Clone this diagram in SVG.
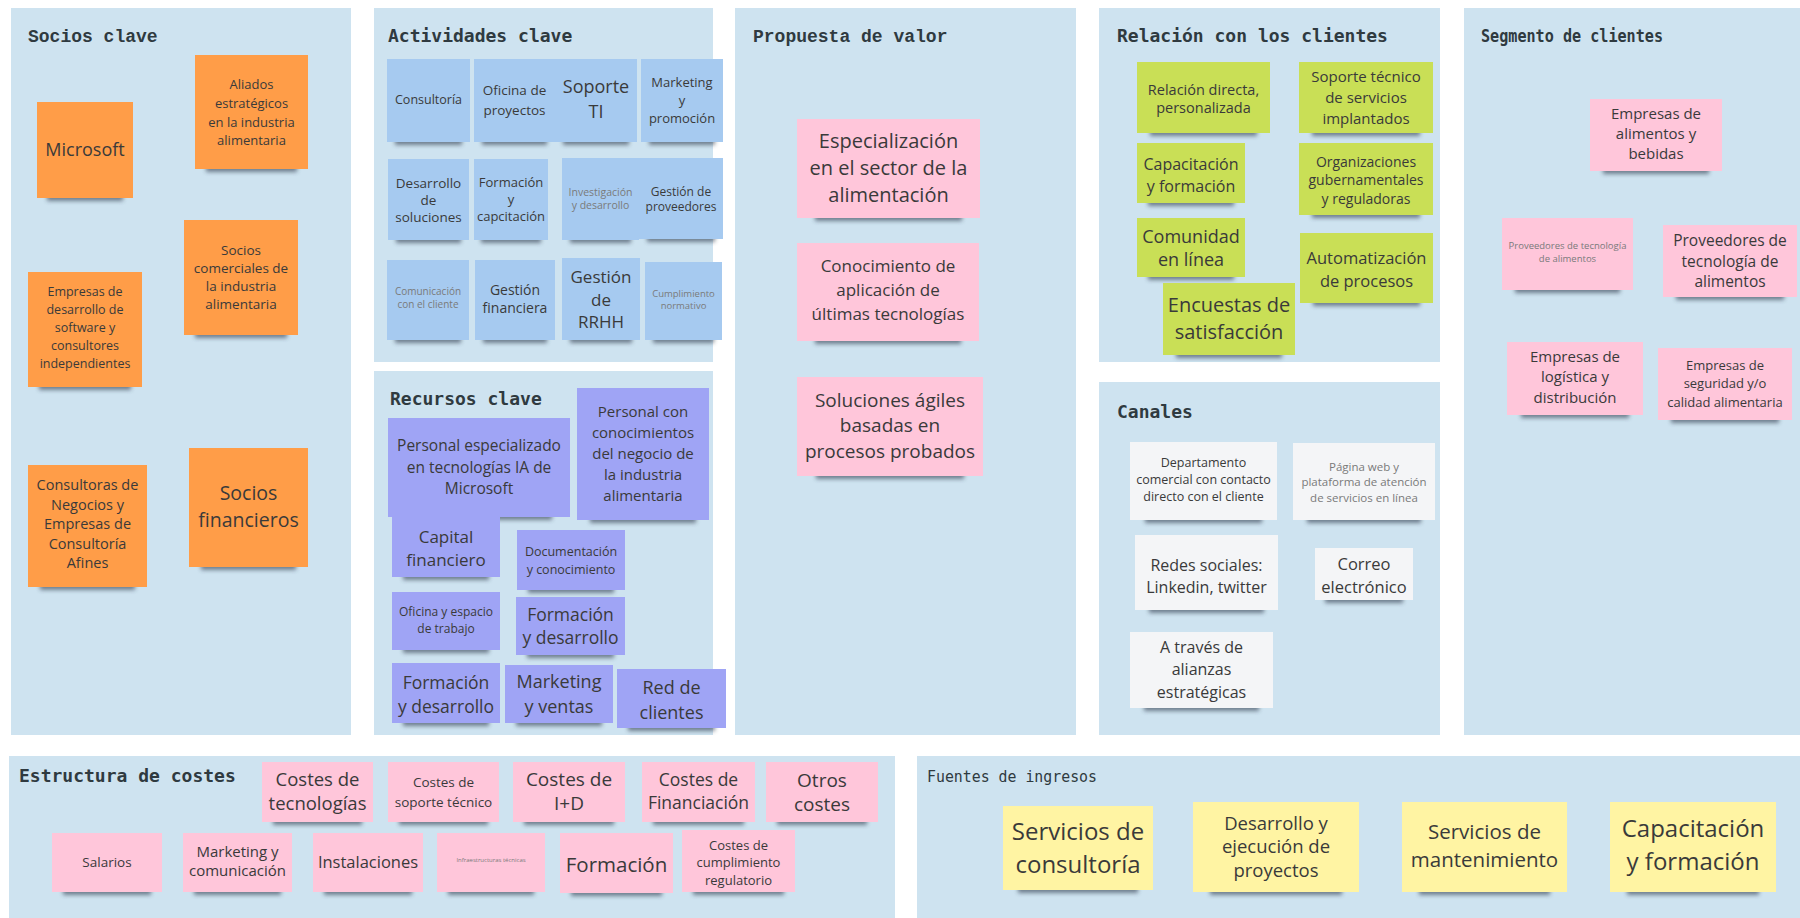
<svg xmlns="http://www.w3.org/2000/svg" width="1800" height="918" viewBox="0 0 1800 918">
<defs>
<filter id="blur" x="-20%" y="-100%" width="140%" height="300%"><feGaussianBlur stdDeviation="2.2"/></filter>
<style>
.panel{fill:#CEE3F0}
.t1{font-family:"DejaVu Sans Mono",monospace;font-weight:bold;font-size:18px;fill:#2f3a40}
.t2{font-family:"Liberation Mono","Courier New",monospace;font-weight:bold;font-size:18px;fill:#2f3a40}
.t3{font-family:"DejaVu Sans Mono",monospace;font-size:16px;fill:#2f3a40}
.sh{fill:#2e3b4c;opacity:.6;filter:url(#blur)}
.o{fill:#FF9D48}.b{fill:#A6CAF0}.p{fill:#9FA4F5}.k{fill:#FFC6DA}.g{fill:#C9DF56}.y{fill:#FFF4A3}.w{fill:#F4F5F7}
text.n{font-family:"Open Sans","Noto Sans",sans-serif;text-anchor:middle;fill:#3a3a3a}
text.l{fill:#7a7a7a}
</style>
</defs>
<rect width="1800" height="918" fill="#ffffff"/>

<g id="panels">
<rect class="panel" x="11" y="8" width="340" height="727"/>
<rect class="panel" x="374" y="8" width="339" height="354"/>
<rect class="panel" x="374" y="371" width="339" height="364"/>
<rect class="panel" x="735" y="8" width="341" height="727"/>
<rect class="panel" x="1099" y="8" width="341" height="354"/>
<rect class="panel" x="1099" y="382" width="341" height="353"/>
<rect class="panel" x="1464" y="8" width="336" height="727"/>
<rect class="panel" x="9" y="756" width="886" height="162"/>
<rect class="panel" x="917" y="756" width="883" height="162"/>
<text class="t2" x="28" y="42">Socios clave</text>
<text class="t1" x="388" y="42">Actividades clave</text>
<text class="t1" x="390" y="405">Recursos clave</text>
<text class="t2" x="753" y="42">Propuesta de valor</text>
<text class="t1" x="1117" y="42">Relación con los clientes</text>
<text class="t1" x="1117" y="418">Canales</text>
<text class="t1" x="1481" y="42" font-size="17" textLength="182" lengthAdjust="spacingAndGlyphs">Segmento de clientes</text>
<text class="t1" x="19" y="782">Estructura de costes</text>
<text class="t3" x="927" y="782" textLength="170" lengthAdjust="spacingAndGlyphs">Fuentes de ingresos</text>
</g>

<g id="connectors"/>

<!-- Socios clave -->
<g id="sc-microsoft"><rect class="sh" x="47" y="192" width="76" height="9"/><rect class="o" x="37" y="102" width="96" height="96"/>
<text class="n" font-size="18"><tspan x="85" y="156">Microsoft</tspan></text></g>
<g id="sc-aliados"><rect class="sh" x="206" y="163" width="91" height="9"/><rect class="o" x="195" y="55" width="113" height="114"/>
<text class="n" font-size="13"><tspan x="251.5" y="88.5">Aliados</tspan><tspan x="251.5" y="107.5">estratégicos</tspan><tspan x="251.5" y="126.5">en la industria</tspan><tspan x="251.5" y="144.5">alimentaria</tspan></text></g>
<g id="sc-comerciales"><rect class="sh" x="195" y="329" width="92" height="9"/><rect class="o" x="184" y="220" width="114" height="115"/>
<text class="n" font-size="13.5"><tspan x="241" y="254.7">Socios</tspan><tspan x="241" y="272.7">comerciales de</tspan><tspan x="241" y="290.7">la industria</tspan><tspan x="241" y="308.7">alimentaria</tspan></text></g>
<g id="sc-empresas-desarrollo"><rect class="sh" x="39" y="381" width="92" height="9"/><rect class="o" x="28" y="272" width="114" height="115"/>
<text class="n" font-size="12.5"><tspan x="85" y="296.4">Empresas de</tspan><tspan x="85" y="314.4">desarrollo de</tspan><tspan x="85" y="332.4">software y</tspan><tspan x="85" y="350.4">consultores</tspan><tspan x="85" y="368.4">independientes</tspan></text></g>
<g id="sc-consultoras"><rect class="sh" x="40" y="581" width="95" height="9"/><rect class="o" x="28" y="465" width="119" height="122"/>
<text class="n" font-size="14.5"><tspan x="87.5" y="490">Consultoras de</tspan><tspan x="87.5" y="509.5">Negocios y</tspan><tspan x="87.5" y="529">Empresas de</tspan><tspan x="87.5" y="548.5">Consultoría</tspan><tspan x="87.5" y="568">Afines</tspan></text></g>
<g id="sc-financieros"><rect class="sh" x="201" y="561" width="95" height="9"/><rect class="o" x="189" y="448" width="119" height="119"/>
<text class="n" font-size="19.5"><tspan x="248.5" y="500">Socios</tspan><tspan x="248.5" y="527">financieros</tspan></text></g>

<!-- Actividades clave -->
<g id="ac-consultoria"><rect class="sh" x="395" y="136" width="67" height="9"/><rect class="b" x="387" y="59" width="83" height="83"/>
<text class="n" font-size="12.5"><tspan x="428.5" y="104.4">Consultoría</tspan></text></g>
<g id="ac-oficina-proyectos"><rect class="sh" x="482" y="136" width="65" height="9"/><rect class="b" x="474" y="59" width="81" height="83"/>
<text class="n" font-size="13.5"><tspan x="514.5" y="94.7">Oficina de</tspan><tspan x="514.5" y="114.7">proyectos</tspan></text></g>
<g id="ac-soporte-ti"><rect class="sh" x="563" y="136" width="66" height="9"/><rect class="b" x="555" y="59" width="82" height="83"/>
<text class="n" font-size="18"><tspan x="596" y="93.3">Soporte</tspan><tspan x="596" y="118.3">TI</tspan></text></g>
<g id="ac-marketing"><rect class="sh" x="649" y="136" width="66" height="9"/><rect class="b" x="641" y="59" width="82" height="83"/>
<text class="n" font-size="13"><tspan x="682" y="86.5">Marketing</tspan><tspan x="682" y="104.5">y</tspan><tspan x="682" y="122.5">promoción</tspan></text></g>
<g id="ac-desarrollo-soluciones"><rect class="sh" x="396" y="234" width="65" height="9"/><rect class="b" x="388" y="159" width="81" height="81"/>
<text class="n" font-size="13.5"><tspan x="428.5" y="187.7">Desarrollo</tspan><tspan x="428.5" y="204.7">de</tspan><tspan x="428.5" y="221.7">soluciones</tspan></text></g>
<g id="ac-formacion"><rect class="sh" x="481" y="234" width="60" height="9"/><rect class="b" x="474" y="159" width="74" height="81"/>
<text class="n" font-size="13"><tspan x="511" y="186.5">Formación</tspan><tspan x="511" y="203.5">y</tspan><tspan x="511" y="220.5">capcitación</tspan></text></g>
<g id="ac-investigacion"><rect class="sh" x="570" y="234" width="61" height="9"/><rect class="b" x="562" y="158" width="77" height="82"/>
<text class="n l" font-size="10.5"><tspan x="600.5" y="195.7">Investigación</tspan><tspan x="600.5" y="208.7">y desarrollo</tspan></text></g>
<g id="ac-proveedores"><rect class="sh" x="647" y="233" width="68" height="9"/><rect class="b" x="639" y="158" width="84" height="81"/>
<text class="n" font-size="12" fill="#555"><tspan x="681" y="196.2">Gestión de</tspan><tspan x="681" y="211.2">proveedores</tspan></text></g>
<g id="ac-comunicacion"><rect class="sh" x="395" y="334" width="66" height="9"/><rect class="b" x="387" y="260" width="82" height="80"/>
<text class="n l" font-size="10"><tspan x="428" y="294.5">Comunicación</tspan><tspan x="428" y="307.5">con el cliente</tspan></text></g>
<g id="ac-gestion-financiera"><rect class="sh" x="483" y="334" width="64" height="9"/><rect class="b" x="475" y="260" width="80" height="80"/>
<text class="n" font-size="14"><tspan x="515" y="295">Gestión</tspan><tspan x="515" y="313">financiera</tspan></text></g>
<g id="ac-rrhh"><rect class="sh" x="570" y="334" width="62" height="9"/><rect class="b" x="562" y="258" width="78" height="82"/>
<text class="n" font-size="17"><tspan x="601" y="283">Gestión</tspan><tspan x="601" y="306">de</tspan><tspan x="601" y="328">RRHH</tspan></text></g>
<g id="ac-cumplimiento"><rect class="sh" x="653" y="334" width="61" height="9"/><rect class="b" x="645" y="262" width="77" height="78"/>
<text class="n l" font-size="9.5"><tspan x="683.5" y="297.3">Cumplimiento</tspan><tspan x="683.5" y="309.3">normativo</tspan></text></g>

<!-- Recursos clave -->
<g id="rc-personal-ia"><rect class="sh" x="406" y="511" width="146" height="9"/><rect class="p" x="388" y="418" width="182" height="99"/>
<text class="n" font-size="15.5"><tspan x="479" y="451.4">Personal especializado</tspan><tspan x="479" y="473.4">en tecnologías IA de</tspan><tspan x="479" y="494.4">Microsoft</tspan></text></g>
<g id="rc-personal-negocio"><rect class="sh" x="590" y="514" width="106" height="9"/><rect class="p" x="577" y="388" width="132" height="132"/>
<text class="n" font-size="15"><tspan x="643" y="417.3">Personal con</tspan><tspan x="643" y="438.3">conocimientos</tspan><tspan x="643" y="459.3">del negocio de</tspan><tspan x="643" y="480.3">la industria</tspan><tspan x="643" y="501.3">alimentaria</tspan></text></g>
<g id="rc-capital"><rect class="sh" x="403" y="571" width="86" height="9"/><rect class="p" x="392" y="517" width="108" height="60"/>
<text class="n" font-size="17"><tspan x="446" y="543">Capital</tspan><tspan x="446" y="566">financiero</tspan></text></g>
<g id="rc-documentacion"><rect class="sh" x="528" y="584" width="86" height="9"/><rect class="p" x="517" y="530" width="108" height="60"/>
<text class="n" font-size="12.5"><tspan x="571" y="556.4">Documentación</tspan><tspan x="571" y="574.4">y conocimiento</tspan></text></g>
<g id="rc-oficina"><rect class="sh" x="403" y="644" width="86" height="9"/><rect class="p" x="392" y="592" width="108" height="58"/>
<text class="n" font-size="12"><tspan x="446" y="616.2">Oficina y espacio</tspan><tspan x="446" y="633.2">de trabajo</tspan></text></g>
<g id="rc-formacion-1"><rect class="sh" x="527" y="649" width="87" height="9"/><rect class="p" x="516" y="597" width="109" height="58"/>
<text class="n" font-size="17.5"><tspan x="570.5" y="621">Formación</tspan><tspan x="570.5" y="644">y desarrollo</tspan></text></g>
<g id="rc-formacion-2"><rect class="sh" x="403" y="717" width="86" height="9"/><rect class="p" x="392" y="663" width="108" height="60"/>
<text class="n" font-size="17.5"><tspan x="446" y="689">Formación</tspan><tspan x="446" y="713">y desarrollo</tspan></text></g>
<g id="rc-marketing"><rect class="sh" x="516" y="717" width="86" height="9"/><rect class="p" x="505" y="665" width="108" height="58"/>
<text class="n" font-size="18"><tspan x="559" y="688.3">Marketing</tspan><tspan x="559" y="713.3">y ventas</tspan></text></g>
<g id="rc-red-clientes"><rect class="sh" x="628" y="722" width="87" height="9"/><rect class="p" x="617" y="669" width="109" height="59"/>
<text class="n" font-size="18"><tspan x="671.5" y="694.3">Red de</tspan><tspan x="671.5" y="719.3">clientes</tspan></text></g>

<!-- Propuesta de valor -->
<g id="pv-especializacion"><rect class="sh" x="815" y="212" width="147" height="9"/><rect class="k" x="797" y="119" width="183" height="99"/>
<text class="n" font-size="20"><tspan x="888.5" y="148">Especialización</tspan><tspan x="888.5" y="175">en el sector de la</tspan><tspan x="888.5" y="202">alimentación</tspan></text></g>
<g id="pv-conocimiento"><rect class="sh" x="815" y="335" width="146" height="9"/><rect class="k" x="797" y="243" width="182" height="98"/>
<text class="n" font-size="17"><tspan x="888" y="272">Conocimiento de</tspan><tspan x="888" y="296">aplicación de</tspan><tspan x="888" y="320">últimas tecnologías</tspan></text></g>
<g id="pv-soluciones"><rect class="sh" x="816" y="470" width="148" height="9"/><rect class="k" x="797" y="377" width="186" height="99"/>
<text class="n" font-size="19"><tspan x="890" y="406.7">Soluciones ágiles</tspan><tspan x="890" y="431.7">basadas en</tspan><tspan x="890" y="457.7">procesos probados</tspan></text></g>

<!-- Relación con los clientes -->
<g id="rl-relacion-directa"><rect class="sh" x="1150" y="127" width="107" height="9"/><rect class="g" x="1137" y="62" width="133" height="71"/>
<text class="n" font-size="14.5"><tspan x="1203.5" y="95">Relación directa,</tspan><tspan x="1203.5" y="113">personalizada</tspan></text></g>
<g id="rl-soporte-tecnico"><rect class="sh" x="1312" y="127" width="108" height="9"/><rect class="g" x="1299" y="62" width="134" height="71"/>
<text class="n" font-size="15"><tspan x="1366" y="82">Soporte técnico</tspan><tspan x="1366" y="103">de servicios</tspan><tspan x="1366" y="124">implantados</tspan></text></g>
<g id="rl-capacitacion"><rect class="sh" x="1148" y="197" width="86" height="9"/><rect class="g" x="1137" y="143" width="108" height="60"/>
<text class="n" font-size="16"><tspan x="1191" y="169.6">Capacitación</tspan><tspan x="1191" y="191.6">y formación</tspan></text></g>
<g id="rl-organizaciones"><rect class="sh" x="1312" y="209" width="108" height="9"/><rect class="g" x="1299" y="143" width="134" height="72"/>
<text class="n" font-size="14"><tspan x="1366" y="167">Organizaciones</tspan><tspan x="1366" y="185">gubernamentales</tspan><tspan x="1366" y="204">y reguladoras</tspan></text></g>
<g id="rl-comunidad"><rect class="sh" x="1148" y="271" width="86" height="9"/><rect class="g" x="1137" y="218" width="108" height="59"/>
<text class="n" font-size="18"><tspan x="1191" y="243.3">Comunidad</tspan><tspan x="1191" y="266.3">en línea</tspan></text></g>
<g id="rl-automatizacion"><rect class="sh" x="1313" y="297" width="107" height="9"/><rect class="g" x="1300" y="233" width="133" height="70"/>
<text class="n" font-size="16.5"><tspan x="1366.5" y="263.8">Automatización</tspan><tspan x="1366.5" y="286.8">de procesos</tspan></text></g>
<g id="rl-encuestas"><rect class="sh" x="1176" y="349" width="106" height="9"/><rect class="g" x="1163" y="283" width="132" height="72"/>
<text class="n" font-size="20"><tspan x="1229" y="312">Encuestas de</tspan><tspan x="1229" y="339">satisfacción</tspan></text></g>

<!-- Canales -->
<g id="ch-departamento"><rect class="sh" x="1145" y="514" width="117" height="9"/><rect class="w" x="1130" y="442" width="147" height="78"/>
<text class="n" font-size="12.5"><tspan x="1203.5" y="467.4">Departamento</tspan><tspan x="1203.5" y="484.4">comercial con contacto</tspan><tspan x="1203.5" y="501.4">directo con el cliente</tspan></text></g>
<g id="ch-pagina-web"><rect class="sh" x="1307" y="514" width="114" height="9"/><rect class="w" x="1293" y="443" width="142" height="77"/>
<text class="n l" font-size="11.5"><tspan x="1364" y="471">Página web y</tspan><tspan x="1364" y="486">plataforma de atención</tspan><tspan x="1364" y="502">de servicios en línea</tspan></text></g>
<g id="ch-redes"><rect class="sh" x="1149" y="604" width="115" height="9"/><rect class="w" x="1135" y="535" width="143" height="75"/>
<text class="n" font-size="16"><tspan x="1206.5" y="570.6">Redes sociales:</tspan><tspan x="1206.5" y="592.6">Linkedin, twitter</tspan></text></g>
<g id="ch-correo"><rect class="sh" x="1325" y="594" width="78" height="9"/><rect class="w" x="1315" y="548" width="98" height="52"/>
<text class="n" font-size="16.5"><tspan x="1364" y="569.8">Correo</tspan><tspan x="1364" y="592.8">electrónico</tspan></text></g>
<g id="ch-alianzas"><rect class="sh" x="1144" y="702" width="115" height="9"/><rect class="w" x="1130" y="632" width="143" height="76"/>
<text class="n" font-size="16"><tspan x="1201.5" y="652.6">A través de</tspan><tspan x="1201.5" y="674.6">alianzas</tspan><tspan x="1201.5" y="697.6">estratégicas</tspan></text></g>

<!-- Segmento de clientes -->
<g id="sg-alimentos"><rect class="sh" x="1603" y="165" width="106" height="9"/><rect class="k" x="1590" y="99" width="132" height="72"/>
<text class="n" font-size="15"><tspan x="1656" y="119.3">Empresas de</tspan><tspan x="1656" y="139.3">alimentos y</tspan><tspan x="1656" y="159.3">bebidas</tspan></text></g>
<g id="sg-proveedores-small"><rect class="sh" x="1515" y="284" width="105" height="9"/><rect class="k" x="1502" y="218" width="131" height="72"/>
<text class="n l" font-size="9.5"><tspan x="1567.5" y="249.3">Proveedores de tecnología</tspan><tspan x="1567.5" y="262.3">de alimentos</tspan></text></g>
<g id="sg-proveedores"><rect class="sh" x="1676" y="291" width="108" height="9"/><rect class="k" x="1663" y="225" width="134" height="72"/>
<text class="n" font-size="15.5"><tspan x="1730" y="246.4">Proveedores de</tspan><tspan x="1730" y="267.4">tecnología de</tspan><tspan x="1730" y="287.4">alimentos</tspan></text></g>
<g id="sg-logistica"><rect class="sh" x="1521" y="409" width="108" height="9"/><rect class="k" x="1507" y="342" width="136" height="73"/>
<text class="n" font-size="15"><tspan x="1575" y="362.3">Empresas de</tspan><tspan x="1575" y="382.3">logística y</tspan><tspan x="1575" y="403.3">distribución</tspan></text></g>
<g id="sg-seguridad"><rect class="sh" x="1671" y="414" width="108" height="9"/><rect class="k" x="1658" y="348" width="134" height="72"/>
<text class="n" font-size="13"><tspan x="1725" y="369.5">Empresas de</tspan><tspan x="1725" y="387.5">seguridad y/o</tspan><tspan x="1725" y="406.5">calidad alimentaria</tspan></text></g>

<!-- Estructura de costes -->
<g id="ec-tecnologias"><rect class="sh" x="273" y="816" width="89" height="9"/><rect class="k" x="262" y="762" width="111" height="60"/>
<text class="n" font-size="18.5"><tspan x="317.5" y="785.5">Costes de</tspan><tspan x="317.5" y="809.5">tecnologías</tspan></text></g>
<g id="ec-soporte"><rect class="sh" x="399" y="816" width="89" height="9"/><rect class="k" x="388" y="762" width="111" height="60"/>
<text class="n" font-size="13.5"><tspan x="443.5" y="786.7">Costes de</tspan><tspan x="443.5" y="806.7">soporte técnico</tspan></text></g>
<g id="ec-id"><rect class="sh" x="524" y="816" width="90" height="9"/><rect class="k" x="513" y="762" width="112" height="60"/>
<text class="n" font-size="19"><tspan x="569" y="785.7">Costes de</tspan><tspan x="569" y="809.7">I+D</tspan></text></g>
<g id="ec-financiacion"><rect class="sh" x="653" y="816" width="91" height="9"/><rect class="k" x="642" y="762" width="113" height="60"/>
<text class="n" font-size="17.5"><tspan x="698.5" y="786">Costes de</tspan><tspan x="698.5" y="809">Financiación</tspan></text></g>
<g id="ec-otros"><rect class="sh" x="777" y="816" width="90" height="9"/><rect class="k" x="766" y="762" width="112" height="60"/>
<text class="n" font-size="19"><tspan x="822" y="786.7">Otros</tspan><tspan x="822" y="810.7">costes</tspan></text></g>
<g id="ec-salarios"><rect class="sh" x="63" y="886" width="88" height="9"/><rect class="k" x="52" y="833" width="110" height="59"/>
<text class="n" font-size="13.5"><tspan x="107" y="866.7">Salarios</tspan></text></g>
<g id="ec-marketing"><rect class="sh" x="194" y="886" width="87" height="9"/><rect class="k" x="183" y="833" width="109" height="59"/>
<text class="n" font-size="15"><tspan x="237.5" y="857.3">Marketing y</tspan><tspan x="237.5" y="876.3">comunicación</tspan></text></g>
<g id="ec-instalaciones"><rect class="sh" x="324" y="886" width="88" height="9"/><rect class="k" x="313" y="833" width="110" height="59"/>
<text class="n" font-size="16.5"><tspan x="368" y="867.8">Instalaciones</tspan></text></g>
<g id="ec-infraestructuras"><rect class="sh" x="448" y="886" width="86" height="9"/><rect class="k" x="437" y="833" width="108" height="59"/>
<text class="n l" font-size="6"><tspan x="491" y="862">Infraestructuras técnicas</tspan></text></g>
<g id="ec-formacion"><rect class="sh" x="571" y="887" width="91" height="9"/><rect class="k" x="560" y="833" width="113" height="60"/>
<text class="n" font-size="20.5"><tspan x="616.5" y="872">Formación</tspan></text></g>
<g id="ec-cumplimiento"><rect class="sh" x="693" y="886" width="91" height="9"/><rect class="k" x="682" y="830" width="113" height="62"/>
<text class="n" font-size="13"><tspan x="738.5" y="849.5">Costes de</tspan><tspan x="738.5" y="866.5">cumplimiento</tspan><tspan x="738.5" y="884.5">regulatorio</tspan></text></g>

<!-- Fuentes de ingresos -->
<g id="fi-consultoria"><rect class="sh" x="1018" y="884" width="120" height="9"/><rect class="y" x="1003" y="806" width="150" height="84"/>
<text class="n" font-size="24"><tspan x="1078" y="840">Servicios de</tspan><tspan x="1078" y="873">consultoría</tspan></text></g>
<g id="fi-desarrollo"><rect class="sh" x="1210" y="886" width="132" height="9"/><rect class="y" x="1193" y="802" width="166" height="90"/>
<text class="n" font-size="18.5"><tspan x="1276" y="829.5">Desarrollo y</tspan><tspan x="1276" y="852.5">ejecución de</tspan><tspan x="1276" y="876.5">proyectos</tspan></text></g>
<g id="fi-mantenimiento"><rect class="sh" x="1419" y="886" width="131" height="9"/><rect class="y" x="1402" y="802" width="165" height="90"/>
<text class="n" font-size="20.5"><tspan x="1484.5" y="839">Servicios de</tspan><tspan x="1484.5" y="867">mantenimiento</tspan></text></g>
<g id="fi-capacitacion"><rect class="sh" x="1627" y="886" width="132" height="9"/><rect class="y" x="1610" y="802" width="166" height="90"/>
<text class="n" font-size="24"><tspan x="1693" y="837">Capacitación</tspan><tspan x="1693" y="870">y formación</tspan></text></g>
</svg>
